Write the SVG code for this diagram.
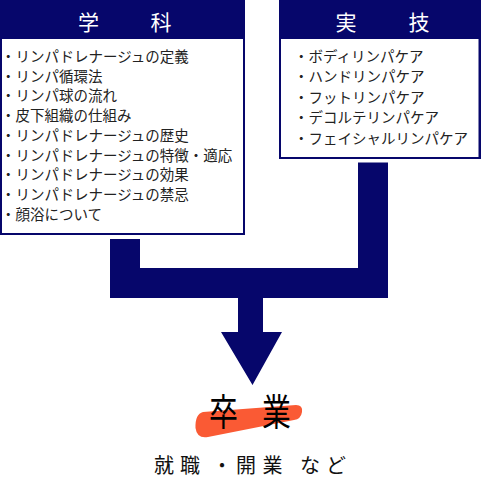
<svg xmlns="http://www.w3.org/2000/svg" width="481" height="477" viewBox="0 0 481 477">
<style>
.navy{fill:#06066b}
.white{fill:#ffffff}
.hd{font-family:"Noto Sans CJK JP","Noto Sans",sans-serif;font-size:21px;fill:#ffffff}
.li{font-family:"Noto Sans CJK JP","Noto Sans",sans-serif;font-size:14.5px;fill:#222222}
.big{font-family:"Noto Sans CJK JP","Noto Sans",sans-serif;font-size:37px;fill:#000000}
.sub{font-family:"Noto Sans CJK JP","Noto Sans",sans-serif;font-size:20px;fill:#111111}
</style>
<rect width="481" height="477" fill="#ffffff"/>
<g id="connectors" class="navy">
<rect x="110" y="239" width="30" height="59"/>
<rect x="358" y="162.5" width="30" height="135.5"/>
<rect x="110" y="268" width="278" height="30"/>
<path d="M238 297 H263 V332 H282 L252.5 385 L221 332 H238 Z"/>
</g>
<g id="gakka">
<rect class="navy" x="0" y="0" width="245" height="235"/>
<rect class="white" x="2" y="39" width="241" height="194"/>
<text class="hd" x="78 150.5" y="30">学科</text>
<text class="li" x="1" y="62">・リンパドレナージュの定義</text>
<text class="li" x="1" y="81.7">・リンパ循環法</text>
<text class="li" x="1" y="101.4">・リンパ球の流れ</text>
<text class="li" x="1" y="121.1">・皮下組織の仕組み</text>
<text class="li" x="1" y="140.8">・リンパドレナージュの歴史</text>
<text class="li" x="1" y="160.5">・リンパドレナージュの特徴・適応</text>
<text class="li" x="1" y="180.2">・リンパドレナージュの効果</text>
<text class="li" x="1" y="199.9">・リンパドレナージュの禁忌</text>
<text class="li" x="1" y="219.6">・顔浴について</text>
</g>
<g id="jitsugi">
<rect class="navy" x="279" y="0" width="202" height="159"/>
<rect class="white" x="281" y="39" width="197.5" height="118"/>
<text class="hd" x="335.5 408.5" y="30">実技</text>
<text class="li" x="294" y="61.5">・ボディリンパケア</text>
<text class="li" x="294" y="82.1">・ハンドリンパケア</text>
<text class="li" x="294" y="102.8">・フットリンパケア</text>
<text class="li" x="294" y="123.4">・デコルテリンパケア</text>
<text class="li" x="294" y="144">・フェイシャルリンパケア</text>
</g>
<g id="sotsugyo">
<path d="M203 412 L296 405 Q303 405 302 412 Q301 419 294 420 L208 437 Q197 439 195.5 428 Q195 414 203 412 Z" fill="#fa5a34"/>
<text class="big" transform="scale(0.78 1)" y="426"><tspan x="268">卒</tspan><tspan x="336">業</tspan></text>
</g>
<g id="shushoku">
<text class="sub" x="154 180 212 236 262.5 290 300 326" y="472.5">就職・開業 など</text>
</g>
</svg>
